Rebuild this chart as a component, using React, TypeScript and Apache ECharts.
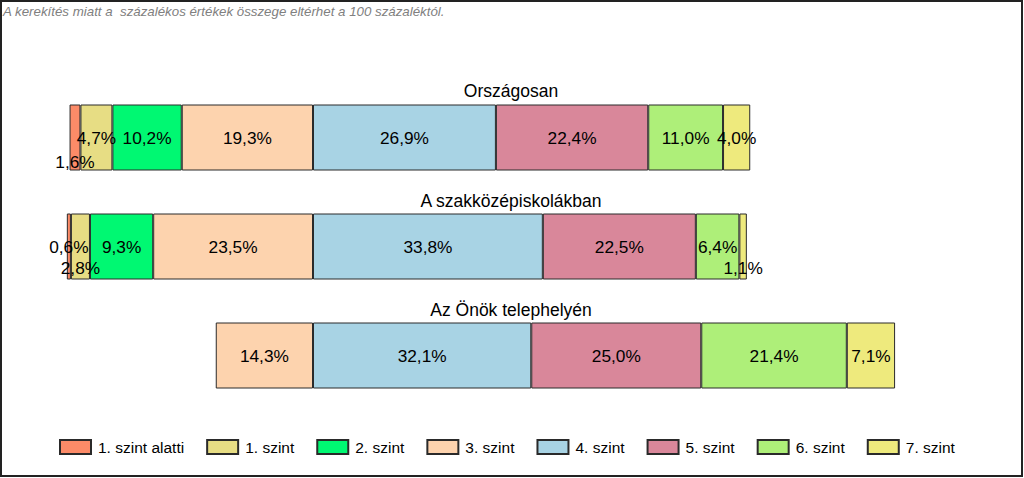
import React, { useEffect, useRef } from 'react';
import * as echarts from 'echarts';

const categories = ['Országosan', 'A szakközépiskolákban', 'Az Önök telephelyén'];
const levelNames = ['1. szint alatti', '1. szint', '2. szint', '3. szint', '4. szint', '5. szint', '6. szint', '7. szint'];
const below1 = [1.6, 0.6, 0];
const level1 = [4.7, 2.8, 0];
const level2 = [10.2, 9.3, 0];
const level3 = [19.3, 23.5, 14.3];
const level4 = [26.9, 33.8, 32.1];
const level5 = [22.4, 22.5, 25.0];
const level6 = [11.0, 6.4, 21.4];
const level7 = [4.0, 1.1, 7.1];
const levelValues = [below1, level1, level2, level3, level4, level5, level6, level7];
const levelColors = ['#FC8B68', '#E7DD84', '#00F872', '#FDD3AE', '#A8D3E4', '#D9879A', '#AEEF79', '#EEEA7D'];
const note = 'A kerekítés miatt a  százalékos értékek összege eltérhet a 100 százaléktól.';

// label nudges (layout only): which labels Excel pushed below the bar centre
const labelNudges = [
  { level: 0, row: 0, dy: 24 },
  { level: 1, row: 1, dy: 21 },
  { level: 7, row: 1, dy: 21 },
];

const FONT = '"Liberation Sans", Arial, sans-serif';

export default function App() {
  const ref = useRef<HTMLDivElement>(null);
  useEffect(() => {
    if (!ref.current) return;
    const chart = echarts.init(ref.current, null, { renderer: 'svg' });
    const order = [3, 2, 1, 0, 4, 5, 6, 7];
    const series = order.map((li) => {
      const sign = li < 4 ? -1 : 1;
      return {
        name: levelNames[li],
        type: 'bar',
        stack: 'total',
        barWidth: 66,
        itemStyle: { color: levelColors[li], borderColor: '#2a2a2a', borderWidth: 1 },
        label: {
          show: true,
          position: 'inside',
          color: '#000',
          fontSize: 17.3,
          fontFamily: FONT,
          formatter: (p: any) =>
            p.value == null ? '' : Math.abs(p.value).toFixed(1).replace('.', ',') + '%',
        },
        data: levelValues[li].map((v, row) => {
          if (!v) return null;
          const nudge = labelNudges.find((n) => n.level === li && n.row === row);
          const item: any = { value: sign * v };
          if (nudge) item.label = { offset: [0, nudge.dy] };
          return item;
        }),
      };
    });
    const titleYs = [91, 201, 310];
    chart.setOption({
      animation: false,
      grid: { left: 41, right: 31, top: 83, bottom: 68 },
      xAxis: { type: 'value', min: -40, max: 100, show: false },
      yAxis: { type: 'category', data: categories, inverse: true, show: false },
      legend: {
        data: levelNames,
        left: 54,
        top: 434,
        icon: 'rect',
        itemWidth: 31,
        itemHeight: 14,
        itemGap: 22,
        textStyle: { fontSize: 15.5, color: '#000', fontFamily: FONT, padding: [0, 0, 0, 2] },
      },
      series,
      graphic: [
        {
          type: 'text',
          x: 3,
          y: 11,
          style: { text: note, fill: '#808080', font: `italic 13.3px ${FONT}`, verticalAlign: 'middle' },
        },
        ...categories.map((c, i) => ({
          type: 'text',
          x: 511,
          y: titleYs[i],
          style: { text: c, fill: '#000', font: `17.5px ${FONT}`, textAlign: 'center', verticalAlign: 'middle' },
        })),
        {
          type: 'rect',
          shape: { x: 1, y: 1, width: 1021, height: 475 },
          style: { fill: 'none', stroke: '#222', lineWidth: 2 },
          z: 100,
        },
      ],
    });
    return () => chart.dispose();
  }, []);
  return <div ref={ref} style={{ position: 'absolute', left: 0, top: 0, width: 1024, height: 478 }} />;
}
